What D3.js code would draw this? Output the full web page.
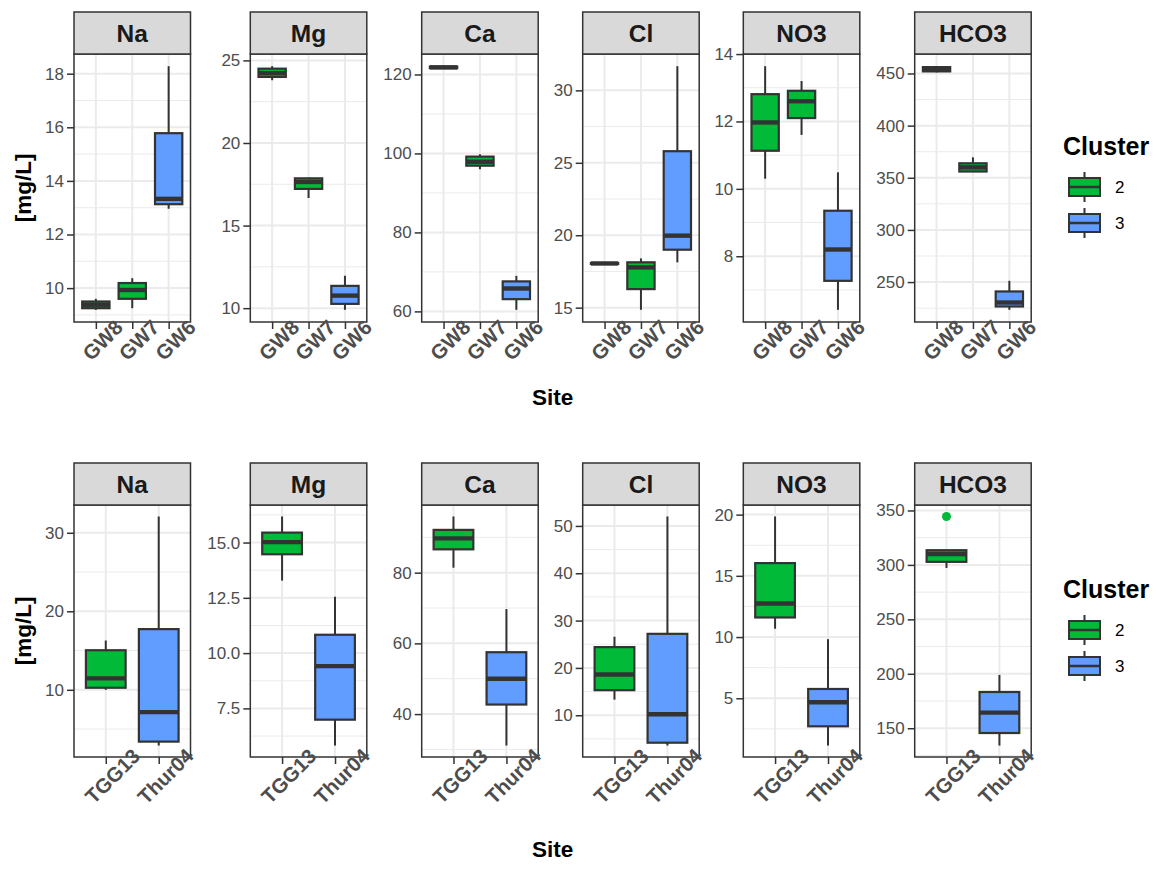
<!DOCTYPE html>
<html>
<head>
<meta charset="utf-8">
<script src="https://cdn.jsdelivr.net/npm/d3@7"></script>
<style>
  html, body { margin: 0; padding: 0; background: #ffffff; }
  svg { display: block; font-family: "Liberation Sans", Arial, sans-serif; }
</style>
</head>
<body>
<div id="chart"></div>
<script>
// ---------------- DATA ----------------
const elements = ["Na", "Mg", "Ca", "Cl", "NO3", "HCO3"];
const clusters = ["2", "3"];

// top row
const sitesTop = ["GW8", "GW7", "GW6"];
const clusterTop = ["2", "2", "3"];
// box stats: [lower whisker, Q1, median, Q3, upper whisker]
const topNa   = [[9.19, 9.25, 9.38, 9.5, 9.6],   [9.25, 9.6, 9.93, 10.19, 10.37], [12.96, 13.13, 13.33, 15.78, 18.28]];
const topMg   = [[23.8, 24.0, 24.23, 24.5, 24.65], [16.67, 17.22, 17.64, 17.86, 17.9], [9.9, 10.26, 10.76, 11.35, 11.96]];
const topCa   = [[121.5, 121.6, 121.8, 122.0, 122.1], [96.0, 96.9, 97.9, 99.2, 99.8], [60.4, 63.1, 65.8, 67.6, 69.0]];
const topCl   = [[18.0, 18.02, 18.05, 18.08, 18.1], [14.85, 16.28, 17.78, 18.13, 18.4], [18.13, 19.0, 19.97, 25.8, 31.67]];
const topNO3  = [[10.3, 11.13, 11.97, 12.81, 13.64], [11.6, 12.1, 12.6, 12.91, 13.2], [6.41, 7.27, 8.2, 9.35, 10.49]];
const topHCO3 = [[451, 452, 453.8, 456.1, 457], [356, 356, 360, 363.9, 369.6], [223.4, 226.6, 230.4, 241, 251.2]];
const topOutliers = [[], [], [], [], [], []];

const topTicksNa   = [10, 12, 14, 16, 18];
const topTicksMg   = [10, 15, 20, 25];
const topTicksCa   = [60, 80, 100, 120];
const topTicksCl   = [15, 20, 25, 30];
const topTicksNO3  = [8, 10, 12, 14];
const topTicksHCO3 = [250, 300, 350, 400, 450];

// bottom row
const sitesBottom = ["TGG13", "Thur04"];
const clusterBottom = ["2", "3"];
const botNa   = [[10.0, 10.26, 11.45, 15.04, 16.28], [2.9, 3.4, 7.16, 17.73, 32.08]];
const botMg   = [[13.28, 14.47, 15.02, 15.45, 16.18], [5.82, 6.99, 9.41, 10.83, 12.55]];
const botCa   = [[81.4, 86.6, 89.7, 92.1, 95.9], [31.1, 42.7, 50.0, 57.5, 69.7]];
const botCl   = [[13.3, 15.3, 18.6, 24.4, 26.6], [3.6, 4.2, 10.2, 27.2, 52.0]];
const botNO3  = [[10.68, 11.6, 12.74, 16.04, 19.85], [1.14, 2.71, 4.67, 5.76, 9.83]];
const botHCO3 = [[297.2, 302.8, 310.0, 313.5, 313.5], [134.1, 145.6, 164.3, 183.3, 199.0]];
// outliers: [site index, value]
const botOutliersHCO3 = [[0, 344.5]];
const botOutliers = [[], [], [], [], [], botOutliersHCO3];

const botTicksNa   = [10, 20, 30];
const botTicksMg   = [7.5, 10.0, 12.5, 15.0];
const botTicksCa   = [40, 60, 80];
const botTicksCl   = [10, 20, 30, 40, 50];
const botTicksNO3  = [5, 10, 15, 20];
const botTicksHCO3 = [150, 200, 250, 300, 350];

const colors = { "2": "#00BA38", "3": "#619CFF" };

// ---------------- LAYOUT ----------------
const W = 1161, H = 890;
const panelLefts = [74, 250.3, 421.7, 582.7, 743.3, 914.7];
const panelW = 116.5;

const rows = [
  { sites: sitesTop, cl: clusterTop, stats: [topNa, topMg, topCa, topCl, topNO3, topHCO3],
    ticks: [topTicksNa, topTicksMg, topTicksCa, topTicksCl, topTicksNO3, topTicksHCO3],
    outliers: topOutliers, stripTop: 12, plotTop: 54, plotBottom: 322, siteY: 405 },
  { sites: sitesBottom, cl: clusterBottom, stats: [botNa, botMg, botCa, botCl, botNO3, botHCO3],
    ticks: [botTicksNa, botTicksMg, botTicksCa, botTicksCl, botTicksNO3, botTicksHCO3],
    outliers: botOutliers, stripTop: 463, plotTop: 505, plotBottom: 757, siteY: 857 }
];

const svg = d3.select("#chart").append("svg")
  .attr("width", W).attr("height", H).attr("viewBox", `0 0 ${W} ${H}`);
svg.append("rect").attr("width", W).attr("height", H).attr("fill", "#ffffff");

const dark = "#333333";

rows.forEach((row, ri) => {
  elements.forEach((el, ei) => {
    const x0 = panelLefts[ei];
    const stats = row.stats[ei];
    const outs = row.outliers[ei];
    const ticks = row.ticks[ei];
    const allVals = stats.flat().concat(outs.map(o => o[1]));
    const lo = d3.min(allVals), hi = d3.max(allVals);
    const pad = (hi - lo) * 0.05;
    const y = d3.scaleLinear().domain([lo - pad, hi + pad]).range([row.plotBottom, row.plotTop]);
    const x = d3.scalePoint().domain(row.sites).range([x0, x0 + panelW]).padding(0.6);
    const step = x.step();
    const bw = step * 0.75;

    const g = svg.append("g");
    g.append("rect").attr("x", x0).attr("y", row.plotTop).attr("width", panelW)
      .attr("height", row.plotBottom - row.plotTop).attr("fill", "#ffffff");

    // minor grid lines
    const d = ticks[1] - ticks[0];
    const minors = [];
    for (let i = 0; i < ticks.length - 1; i++) minors.push((ticks[i] + ticks[i + 1]) / 2);
    minors.push(ticks[0] - d / 2, ticks[ticks.length - 1] + d / 2);
    const [dmin, dmax] = y.domain();
    g.selectAll(".minor").data(minors.filter(v => v >= dmin && v <= dmax)).join("line")
      .attr("x1", x0).attr("x2", x0 + panelW)
      .attr("y1", v => y(v)).attr("y2", v => y(v))
      .attr("stroke", "#EBEBEB").attr("stroke-width", 1);
    // major grid
    const majors = ticks.filter(v => v >= dmin - 1e-6 && v <= dmax + 1e-6);
    g.selectAll(".major").data(majors).join("line")
      .attr("x1", x0).attr("x2", x0 + panelW)
      .attr("y1", v => y(v)).attr("y2", v => y(v))
      .attr("stroke", "#EBEBEB").attr("stroke-width", 2);
    g.selectAll(".majorx").data(row.sites).join("line")
      .attr("x1", s => x(s)).attr("x2", s => x(s))
      .attr("y1", row.plotTop).attr("y2", row.plotBottom)
      .attr("stroke", "#EBEBEB").attr("stroke-width", 2);

    // boxes
    const bx = g.selectAll(".box").data(stats).join("g");
    bx.append("line")
      .attr("x1", (s, i) => x(row.sites[i])).attr("x2", (s, i) => x(row.sites[i]))
      .attr("y1", s => y(s[0])).attr("y2", s => y(s[1]))
      .attr("stroke", dark).attr("stroke-width", 2);
    bx.append("line")
      .attr("x1", (s, i) => x(row.sites[i])).attr("x2", (s, i) => x(row.sites[i]))
      .attr("y1", s => y(s[3])).attr("y2", s => y(s[4]))
      .attr("stroke", dark).attr("stroke-width", 2);
    bx.append("rect")
      .attr("x", (s, i) => x(row.sites[i]) - bw / 2).attr("width", bw)
      .attr("y", s => y(s[3])).attr("height", s => Math.max(0.01, y(s[1]) - y(s[3])))
      .attr("fill", (s, i) => colors[row.cl[i]])
      .attr("stroke", dark).attr("stroke-width", 2.2);
    bx.append("line")
      .attr("x1", (s, i) => x(row.sites[i]) - bw / 2).attr("x2", (s, i) => x(row.sites[i]) + bw / 2)
      .attr("y1", s => y(s[2])).attr("y2", s => y(s[2]))
      .attr("stroke", dark).attr("stroke-width", 4.4);
    // outliers
    g.selectAll(".out").data(outs).join("circle")
      .attr("cx", o => x(row.sites[o[0]])).attr("cy", o => y(o[1])).attr("r", 4.5)
      .attr("fill", o => colors[row.cl[o[0]]]);

    // border
    g.append("rect").attr("x", x0).attr("y", row.plotTop).attr("width", panelW)
      .attr("height", row.plotBottom - row.plotTop).attr("fill", "none")
      .attr("stroke", dark).attr("stroke-width", 1.5);

    // strip
    g.append("rect").attr("x", x0).attr("y", row.stripTop).attr("width", panelW)
      .attr("height", row.plotTop - row.stripTop).attr("fill", "#D9D9D9")
      .attr("stroke", dark).attr("stroke-width", 1.5);
    g.append("text").attr("x", x0 + panelW / 2).attr("y", (row.stripTop + row.plotTop) / 2)
      .attr("text-anchor", "middle").attr("dominant-baseline", "central")
      .attr("font-size", 24.5).attr("font-weight", "bold").attr("fill", "#1A1A1A").text(el);

    // y axis
    const isDec = ticks.some(v => !Number.isInteger(v));
    const ya = g.append("g").attr("transform", `translate(${x0},0)`)
      .call(d3.axisLeft(y).tickValues(majors).tickSize(7).tickPadding(3)
        .tickFormat(v => isDec ? v.toFixed(1) : String(v)));
    ya.select(".domain").remove();
    ya.selectAll("line").attr("stroke", dark).attr("stroke-width", 1.5);
    ya.selectAll("text").attr("fill", "#4D4D4D").attr("font-size", 17)
      .attr("font-family", "Liberation Sans, Arial, sans-serif");

    // x axis
    const xa = g.append("g").attr("transform", `translate(0,${row.plotBottom})`)
      .call(d3.axisBottom(x).tickSize(7));
    xa.select(".domain").remove();
    xa.selectAll("line").attr("stroke", dark).attr("stroke-width", 1.5);
    xa.selectAll("text")
      .attr("x", 0).attr("y", 0).attr("dy", null)
      .attr("text-anchor", "middle").attr("dominant-baseline", "central")
      .attr("transform", `translate(6,${ri === 0 ? 18 : 19}) rotate(-45)`)
      .attr("fill", "#4D4D4D").attr("font-size", 20.5).attr("font-weight", "bold")
      .attr("font-family", "Liberation Sans, Arial, sans-serif");
  });

  const midY = (row.plotTop + row.plotBottom) / 2;
  svg.append("text").attr("transform", `translate(31,${midY}) rotate(-90)`)
    .attr("text-anchor", "middle").attr("font-size", 22.5).attr("font-weight", "bold")
    .attr("fill", "#000").text("[mg/L]");
  const cx = (panelLefts[0] + panelLefts[5] + panelW) / 2;
  svg.append("text").attr("x", cx).attr("y", row.siteY)
    .attr("text-anchor", "middle").attr("font-size", 22.5).attr("font-weight", "bold")
    .attr("fill", "#000").text("Site");

  // legend
  const lg = svg.append("g").attr("transform", `translate(1063,${midY - 33})`);
  lg.append("text").attr("x", 0).attr("y", 0).attr("font-size", 25).attr("font-weight", "bold")
    .attr("fill", "#000").text("Cluster");
  clusters.forEach((c, i) => {
    const ky = 17 + i * 36;
    const kx = 6, kw = 31, kh = 30;
    const k = lg.append("g").attr("transform", `translate(${kx},${ky})`);
    k.append("line").attr("x1", kw / 2).attr("x2", kw / 2).attr("y1", 0).attr("y2", kh)
      .attr("stroke", dark).attr("stroke-width", 2);
    k.append("rect").attr("x", 0).attr("y", 6).attr("width", kw).attr("height", kh - 12)
      .attr("fill", colors[c]).attr("stroke", dark).attr("stroke-width", 2);
    k.append("line").attr("x1", 0).attr("x2", kw).attr("y1", kh / 2).attr("y2", kh / 2)
      .attr("stroke", dark).attr("stroke-width", 2.5);
    lg.append("text").attr("x", 52).attr("y", ky + kh / 2).attr("dominant-baseline", "central")
      .attr("font-size", 17).attr("fill", "#000").text(c);
  });
});
</script>
</body>
</html>
